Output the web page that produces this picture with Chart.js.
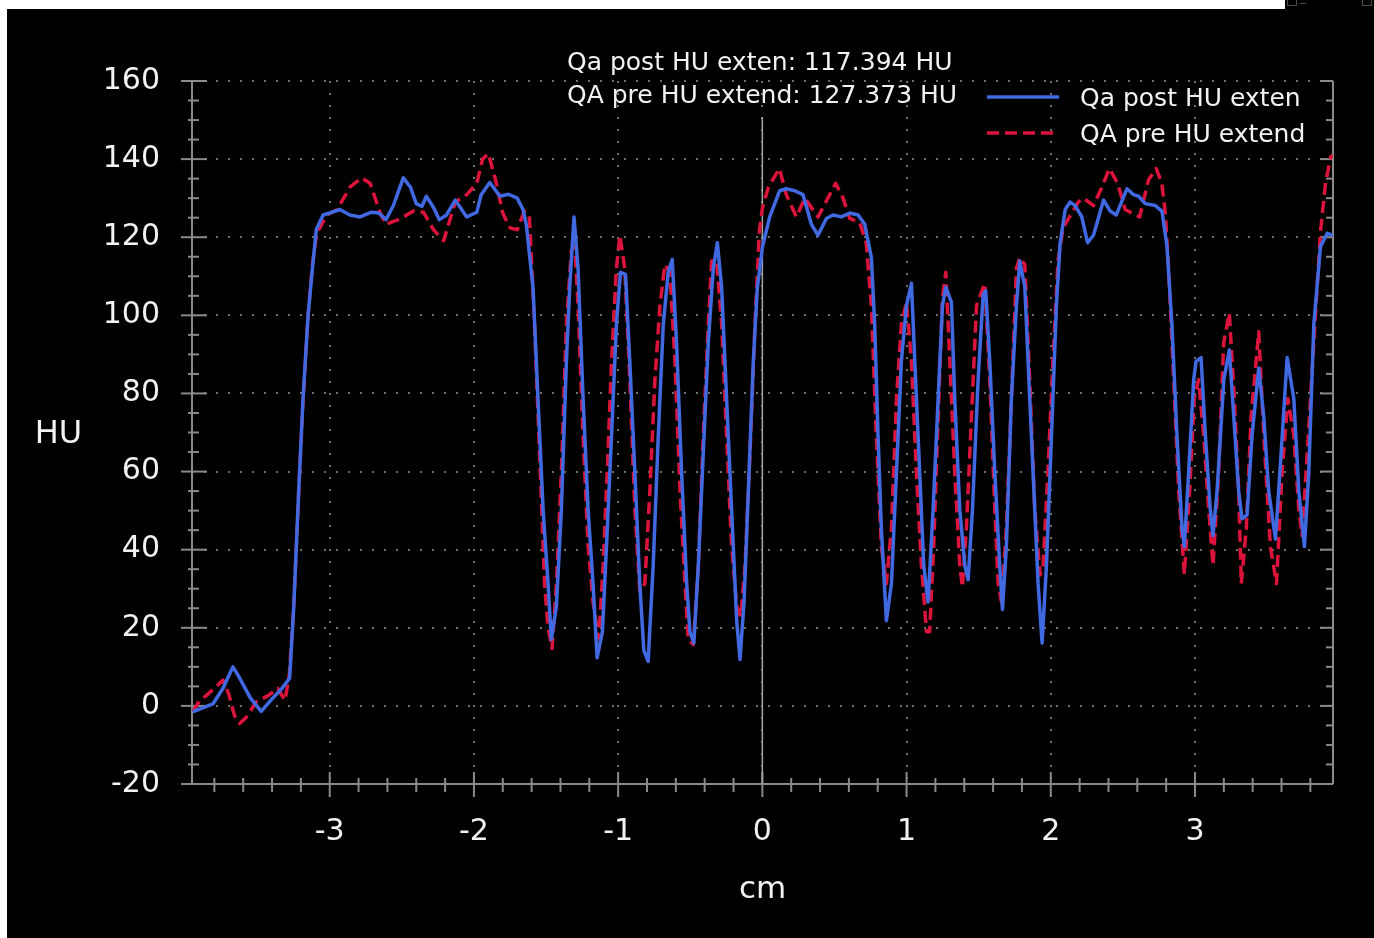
<!DOCTYPE html>
<html>
<head>
<meta charset="utf-8">
<title>HU profile</title>
<script src="https://cdn.jsdelivr.net/npm/chart.js@4.4.0/dist/chart.umd.min.js"></script>
<style>
  html, body { margin: 0; padding: 0; background: #fff; overflow: hidden; }
  canvas { display: block; }
</style>
</head>
<body>
<canvas id="profile" width="1374" height="938"></canvas>
<script>
'use strict';

// profile position (cm) and CT number (HU), one pair of arrays per scan
const POST_LABEL = 'Qa post HU exten';
const PRE_LABEL = 'QA pre HU extend';

const postX = [
  -3.950, -3.880, -3.810, -3.740, -3.671, -3.630, -3.550, -3.475, -3.400, -3.330,
  -3.278, -3.250, -3.215, -3.185, -3.150, -3.120, -3.093, -3.046, -3.000, -2.930,
  -2.860, -2.790, -2.710, -2.660, -2.610, -2.560, -2.490, -2.440, -2.400, -2.360,
  -2.330, -2.280, -2.240, -2.190, -2.130, -2.050, -1.980, -1.950, -1.890, -1.820,
  -1.760, -1.700, -1.660, -1.637, -1.590, -1.556, -1.520, -1.486, -1.463, -1.428,
  -1.394, -1.359, -1.336, -1.306, -1.278, -1.243, -1.208, -1.174, -1.146, -1.109,
  -1.081, -1.046, -1.012, -0.984, -0.949, -0.919, -0.884, -0.850, -0.822, -0.792,
  -0.757, -0.722, -0.687, -0.653, -0.625, -0.595, -0.560, -0.525, -0.502, -0.475,
  -0.444, -0.410, -0.375, -0.340, -0.312, -0.282, -0.248, -0.213, -0.178, -0.155,
  -0.127, -0.097, -0.063, -0.035, 0.000, 0.051, 0.120, 0.166, 0.224, 0.282,
  0.340, 0.386, 0.444, 0.490, 0.548, 0.606, 0.664, 0.710, 0.756, 0.779,
  0.802, 0.825, 0.860, 0.895, 0.930, 0.964, 0.999, 1.034, 1.057, 1.091,
  1.119, 1.149, 1.184, 1.219, 1.249, 1.272, 1.311, 1.334, 1.369, 1.404,
  1.427, 1.457, 1.496, 1.531, 1.549, 1.577, 1.612, 1.646, 1.665, 1.692,
  1.727, 1.762, 1.785, 1.820, 1.854, 1.889, 1.912, 1.940, 1.970, 2.005,
  2.039, 2.065, 2.100, 2.134, 2.169, 2.215, 2.255, 2.296, 2.366, 2.412,
  2.454, 2.528, 2.574, 2.609, 2.655, 2.725, 2.771, 2.806, 2.840, 2.875,
  2.910, 2.926, 2.956, 2.991, 3.007, 3.042, 3.072, 3.106, 3.125, 3.153,
  3.200, 3.238, 3.269, 3.303, 3.326, 3.361, 3.396, 3.442, 3.477, 3.511,
  3.558, 3.597, 3.639, 3.685, 3.720, 3.759, 3.789, 3.824, 3.870, 3.917,
  3.955
];
const postHU = [
  -1.5, -0.5, 0.5, 4.5, 10.0, 7.5, 2.0, -1.4, 1.8, 4.5,
  7.1, 25, 55, 78.7, 100, 112, 122, 125.7, 126.2, 127.1,
  125.7, 125.2, 126.4, 126.2, 124.5, 128.0, 135.2, 132.8, 128.6, 127.9,
  130.5, 127.6, 124.5, 125.7, 129.5, 125.2, 126.4, 130.9, 134.0, 130.5,
  131.0, 130.0, 127.1, 123.3, 107, 78.7, 50, 31.3, 17, 25.6,
  50, 88, 107, 125.2, 112, 78.7, 50, 31.3, 12.3, 19,
  40.8, 69, 97.7, 111, 110.5, 88, 59.8, 31.3, 14.2, 11.4,
  36, 69, 97.7, 111, 114.3, 93, 59.8, 31.3, 19, 16.1,
  36, 64.5, 93, 112, 118.6, 107, 78.7, 50, 21.8, 11.9,
  26.6, 55, 88, 107, 117.394, 125.2, 131.9, 132.4, 131.9, 130.9,
  123.3, 120.5, 124.8, 125.7, 125.2, 126.2, 125.7, 123.3, 114.8, 97.7,
  69.3, 45.5, 21.8, 31.3, 59.8, 88.2, 102.5, 108.2, 88.2, 59.8,
  36, 26.6, 50.3, 78.7, 102.5, 107.2, 103.4, 78.7, 50.3, 36,
  32.3, 50.3, 83.5, 105.3, 106.3, 88.2, 59.8, 36, 24.7, 40.8,
  78.7, 102.5, 113.9, 107.2, 78.7, 50.3, 31.3, 16.1, 36, 69.3,
  102.5, 118.6, 127.1, 129, 128.1, 125.2, 118.6, 120.5, 129.5, 126.7,
  125.7, 132.4, 130.9, 130.5, 128.6, 128.1, 126.7, 117.6, 97.7, 69.3,
  45.5, 40.8, 59.8, 83.5, 88.2, 89.2, 69.3, 50.3, 43.6, 55,
  83.5, 91.1, 74, 55, 47.9, 48.9, 69.3, 86.5, 74, 55,
  42.7, 64.5, 89.2, 78.7, 55, 40.8, 59.8, 97.7, 117.6, 121,
  120.5
];

const preX = [
  -3.950, -3.900, -3.860, -3.800, -3.740, -3.700, -3.660, -3.625, -3.580, -3.510,
  -3.420, -3.360, -3.310, -3.280, -3.250, -3.215, -3.185, -3.150, -3.120, -3.090,
  -3.020, -2.950, -2.860, -2.780, -2.720, -2.650, -2.610, -2.510, -2.420, -2.350,
  -2.280, -2.210, -2.130, -2.050, -1.980, -1.940, -1.900, -1.850, -1.800, -1.750,
  -1.700, -1.650, -1.615, -1.580, -1.540, -1.510, -1.486, -1.458, -1.428, -1.394,
  -1.359, -1.324, -1.300, -1.278, -1.243, -1.208, -1.174, -1.134, -1.104, -1.076,
  -1.046, -1.012, -0.988, -0.954, -0.919, -0.884, -0.850, -0.815, -0.780, -0.745,
  -0.710, -0.676, -0.641, -0.606, -0.571, -0.537, -0.514, -0.479, -0.444, -0.410,
  -0.375, -0.352, -0.317, -0.282, -0.248, -0.213, -0.178, -0.150, -0.120, -0.086,
  -0.051, -0.021, 0.000, 0.042, 0.118, 0.166, 0.236, 0.294, 0.386, 0.467,
  0.508, 0.560, 0.606, 0.675, 0.720, 0.756, 0.790, 0.825, 0.860, 0.895,
  0.930, 0.964, 0.999, 1.034, 1.068, 1.103, 1.138, 1.160, 1.188, 1.219,
  1.249, 1.272, 1.300, 1.334, 1.369, 1.387, 1.415, 1.450, 1.485, 1.542,
  1.577, 1.612, 1.635, 1.658, 1.692, 1.727, 1.762, 1.785, 1.820, 1.854,
  1.889, 1.926, 1.947, 1.980, 2.015, 2.050, 2.085, 2.130, 2.190, 2.227,
  2.296, 2.354, 2.407, 2.463, 2.516, 2.562, 2.616, 2.678, 2.731, 2.770,
  2.794, 2.817, 2.852, 2.887, 2.926, 2.963, 2.995, 3.025, 3.060, 3.095,
  3.125, 3.164, 3.199, 3.238, 3.273, 3.303, 3.321, 3.356, 3.389, 3.442,
  3.477, 3.523, 3.565, 3.604, 3.644, 3.685, 3.720, 3.743, 3.778, 3.824,
  3.870, 3.905, 3.940, 3.955
];
const preHU = [
  -1.5, 1.5, 2.5, 4.5, 6.6, 3, -2.5, -4.5, -3, 1,
  2.8, 4.5, 1.4, 8, 25, 55, 78, 100, 113, 121,
  125.7, 127, 132.8, 135.2, 133.8, 126.2, 123.3, 124.7, 126.7, 126.4,
  121.9, 119.1, 129, 130.9, 133.8, 140, 141.4, 134.7, 126.2, 122.4,
  121.9, 126.7, 125, 97.7, 59.8, 31.3, 20, 14.7, 31.3, 59.8,
  97.7, 116.7, 117.6, 102.5, 69, 40.8, 26.6, 17.1, 36, 59.8,
  88, 112, 120.5, 112, 83.5, 50.3, 29.4, 31.3, 55, 83.5,
  102.5, 113, 111, 88, 55, 31.3, 17, 15.7, 36, 69,
  97.7, 113.9, 113.9, 97.7, 69, 40.8, 25.6, 22.8, 36, 64.5,
  97.7, 121.4, 127.373, 132.8, 137.6, 130.9, 125.2, 130, 125.2, 130.9,
  133.8, 130, 124.8, 123.8, 118.6, 102.5, 69.3, 40.8, 31.3, 45.5,
  78.7, 97.7, 103.4, 88.2, 59.8, 36, 19, 19, 40.8, 74,
  104.4, 111, 88.2, 59.8, 36, 30.4, 45.5, 74, 102.5, 108.2,
  83.5, 50.3, 31.3, 26.6, 45.5, 78.7, 112, 114.8, 113, 83.5,
  50.3, 33.5, 36, 59.8, 88.2, 113.9, 122.4, 125.2, 129, 130,
  128.1, 132.8, 137.6, 133.8, 127.1, 126.2, 125.2, 134.7, 137.6, 133.8,
  126.2, 112, 83.5, 55, 33.7, 55, 78.7, 83.5, 69.3, 50.3,
  36, 59.8, 93, 100.6, 78.7, 55, 31.3, 45.5, 74, 95.8,
  69.3, 40.8, 31.3, 59.8, 78.7, 69.3, 50.3, 43.6, 64.5, 93,
  121.4, 133.8, 140.4, 141
];

// axis ranges and tick steps
const X_MIN = -3.955, X_MAX = 3.957;
const Y_MIN = -20, Y_MAX = 160;
const X_MAJOR = 1, X_MINOR = 0.2;
const Y_MAJOR = 20, Y_MINOR = 5;
const CURSOR_X = 0;

const FONT = "'DejaVu Sans', sans-serif";
const AXIS_COLOR = '#8a8a8a';
const TEXT_COLOR = '#f2f2f2';

function toPoints(xs, ys) {
  return xs.map(function (x, i) { return { x: x, y: ys[i] }; });
}

function valueAt(xs, ys, x) {
  const i = xs.indexOf(x);
  return i >= 0 ? ys[i] : null;
}

function line(ctx, x1, y1, x2, y2) {
  ctx.beginPath();
  ctx.moveTo(x1, y1);
  ctx.lineTo(x2, y2);
  ctx.stroke();
}

const profilePlugin = {
  id: 'profileDecor',
  beforeDraw(chart) {
    const ctx = chart.ctx;
    ctx.save();
    ctx.fillStyle = '#ffffff';
    ctx.fillRect(0, 0, chart.width, chart.height);
    ctx.fillStyle = '#000000';
    ctx.fillRect(7, 9, chart.width - 7, chart.height - 9);
    ctx.fillRect(1285, 0, chart.width - 1285, 9);
    // window buttons cut off at the top edge
    ctx.strokeStyle = '#4d4d4d';
    ctx.lineWidth = 1;
    ctx.strokeRect(1287.5, -3.5, 9, 9);
    line(ctx, 1300, 3.5, 1306, 3.5);
    ctx.strokeRect(1362.5, -3.5, 9, 9);
    ctx.restore();
  },
  beforeDatasetsDraw(chart) {
    const ctx = chart.ctx;
    const ca = chart.chartArea;
    const xs = chart.scales.x, ys = chart.scales.y;
    ctx.save();
    ctx.strokeStyle = AXIS_COLOR;
    ctx.lineWidth = 2;
    line(ctx, ca.left, ca.top, ca.left, ca.bottom);
    line(ctx, ca.left, ca.bottom, ca.right, ca.bottom);
    line(ctx, ca.right, ca.top, ca.right, ca.bottom);

    // y ticks: both sides of the left axis, inside only on the right one
    const yCount = Math.round((Y_MAX - Y_MIN) / Y_MINOR);
    for (let i = 0; i <= yCount; i++) {
      const v = Y_MIN + i * Y_MINOR;
      const py = ys.getPixelForValue(v);
      const major = (v % Y_MAJOR) === 0;
      if (major) {
        line(ctx, ca.left - 11, py, ca.left + 15, py);
        line(ctx, ca.right - 13, py, ca.right, py);
      } else {
        line(ctx, ca.left - 4, py, ca.left + 7, py);
        line(ctx, ca.right - 7, py, ca.right, py);
      }
    }

    // x ticks across the bottom axis
    const per = Math.round(X_MAJOR / X_MINOR);
    const first = Math.ceil(X_MIN / X_MINOR), last = Math.floor(X_MAX / X_MINOR);
    for (let k = first; k <= last; k++) {
      const px = xs.getPixelForValue(k * X_MINOR);
      if (k % per === 0) line(ctx, px, ca.bottom - 12, px, ca.bottom + 13);
      else line(ctx, px, ca.bottom - 6, px, ca.bottom + 8);
    }

    // readout cursor
    ctx.strokeStyle = '#a6a6a6';
    ctx.lineWidth = 1.5;
    const cx = xs.getPixelForValue(CURSOR_X);
    line(ctx, cx, 117, cx, ca.bottom);
    ctx.restore();
  },
  afterDraw(chart) {
    const ctx = chart.ctx;
    const ca = chart.chartArea;
    const sets = chart.data.datasets;
    ctx.save();
    ctx.fillStyle = TEXT_COLOR;

    // axis titles
    ctx.font = '32px ' + FONT;
    ctx.textAlign = 'center';
    ctx.textBaseline = 'alphabetic';
    ctx.fillText('HU', 58.5, 443);
    ctx.font = '31px ' + FONT;
    ctx.fillText('cm', (ca.left + ca.right) / 2, 898);

    // cursor readout
    ctx.font = '25px ' + FONT;
    ctx.textAlign = 'left';
    const post = valueAt(postX, postHU, CURSOR_X);
    const pre = valueAt(preX, preHU, CURSOR_X);
    ctx.fillText(POST_LABEL + ': ' + post.toFixed(3) + ' HU', 567, 69.5);
    ctx.fillText(PRE_LABEL + ': ' + pre.toFixed(3) + ' HU', 567, 103);

    // legend
    const rows = [97, 133];
    sets.forEach(function (ds, i) {
      const y = rows[i];
      ctx.strokeStyle = ds.borderColor;
      ctx.lineWidth = ds.borderWidth;
      ctx.setLineDash(ds.borderDash || []);
      line(ctx, 987, y, 1059, y);
      ctx.setLineDash([]);
      ctx.fillStyle = TEXT_COLOR;
      ctx.textBaseline = 'alphabetic';
      ctx.fillText(ds.label, 1080, y + 9);
    });
    ctx.restore();
  }
};

const tickFont = { family: FONT, size: 30, lineHeight: 1 };

new Chart(document.getElementById('profile'), {
  type: 'line',
  data: {
    datasets: [
      {
        label: POST_LABEL,
        data: toPoints(postX, postHU),
        borderColor: '#4169e1',
        borderWidth: 3.5,
        borderJoinStyle: 'round',
        pointRadius: 0,
        tension: 0,
        fill: false
      },
      {
        label: PRE_LABEL,
        data: toPoints(preX, preHU),
        borderColor: '#dc143c',
        borderWidth: 3.5,
        borderDash: [12, 6],
        borderJoinStyle: 'round',
        pointRadius: 0,
        tension: 0,
        fill: false
      }
    ]
  },
  options: {
    responsive: false,
    animation: false,
    devicePixelRatio: 1,
    layout: { padding: { left: 0, right: 41, top: 81, bottom: 0 } },
    plugins: { legend: { display: false }, tooltip: { enabled: false } },
    scales: {
      x: {
        type: 'linear',
        min: X_MIN,
        max: X_MAX,
        afterFit: function (s) { s.height = 154; },
        ticks: {
          stepSize: X_MAJOR,
          includeBounds: false,
          color: TEXT_COLOR,
          font: tickFont,
          padding: 33,
          maxRotation: 0,
          callback: function (v) { return String(v); }
        },
        grid: { color: '#707070', lineWidth: 2, drawTicks: false },
        border: { display: false, dash: [2, 10] }
      },
      y: {
        type: 'linear',
        min: Y_MIN,
        max: Y_MAX,
        afterFit: function (s) { s.width = 192; },
        ticks: {
          stepSize: Y_MAJOR,
          color: TEXT_COLOR,
          font: tickFont,
          padding: 32,
          callback: function (v) { return String(v); }
        },
        grid: { color: '#707070', lineWidth: 2, drawTicks: false },
        border: { display: false, dash: [2, 10] }
      }
    }
  },
  plugins: [profilePlugin]
});
</script>
</body>
</html>
